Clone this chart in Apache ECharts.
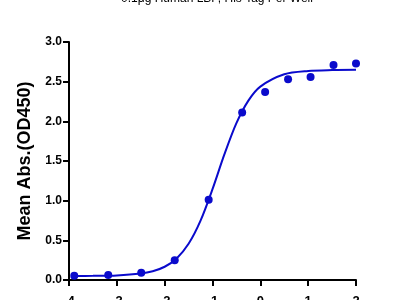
<!DOCTYPE html>
<html><head><meta charset="utf-8">
<script src="https://cdn.jsdelivr.net/npm/echarts@6/dist/echarts.min.js"></script>
<style>html,body{margin:0;padding:0;background:#fff}#c{width:400px;height:300px}</style>
</head><body><div id="c"></div>
<script>
var titleText = "0.1μg Human LBP, His Tag Per Well";
var yAxisName = "Mean Abs.(OD450)";
var pointX = [-3.89, -3.18, -2.49, -1.79, -1.08, -0.38, 0.10, 0.58, 1.05, 1.53, 2.00];
var pointY = [0.054, 0.063, 0.092, 0.25, 1.01, 2.11, 2.37, 2.53, 2.56, 2.71, 2.73];
var curveX = [-3.89, -3.5, -3, -2.5, -2.25, -2, -1.75, -1.5, -1.25, -1, -0.75, -0.5, -0.25, 0, 0.5, 1, 1.5, 2];
var curveY = [0.051, 0.052, 0.058, 0.081, 0.11, 0.167, 0.272, 0.456, 0.748, 1.145, 1.586, 1.977, 2.261, 2.438, 2.593, 2.635, 2.646, 2.649];
var xTicks = [-4, -3, -2, -1, 0, 1, 2];
var yTicks = [0, 0.5, 1, 1.5, 2, 2.5, 3];

var blue = '#0A0ACC';
var chart = echarts.init(document.getElementById('c'));
chart.setOption({
  animation: false,
  title: {text: titleText, left: 212, textAlign: 'center', top: -12,
    textStyle: {fontFamily: 'Liberation Sans', fontSize: 12, fontWeight: 'normal', color: '#000'}},
  grid: {left: 69, right: 44, top: 42, bottom: 20, containLabel: false, outerBoundsMode: 'none'},
  xAxis: {type: 'value', min: xTicks[0], max: xTicks[xTicks.length-1], interval: 1,
    axisLine: {lineStyle: {color: '#000', width: 2}},
    axisTick: {length: 6, lineStyle: {color: '#000', width: 2}},
    axisLabel: {margin: 15, color: '#000', fontFamily: 'Liberation Sans', fontWeight: 'bold', fontSize: 13},
    splitLine: {show: false}},
  yAxis: {type: 'value', min: yTicks[0], max: yTicks[yTicks.length-1], interval: 0.5,
    name: yAxisName, nameLocation: 'middle', nameGap: 31,
    nameTextStyle: {color: '#000', fontFamily: 'Liberation Sans', fontWeight: 'bold', fontSize: 18},
    axisLine: {show: true, onZero: false, lineStyle: {color: '#000', width: 2}},
    axisTick: {show: true, length: 6, lineStyle: {color: '#000', width: 2}},
    axisLabel: {margin: 7, color: '#000', fontFamily: 'Liberation Sans', fontWeight: 'bold', fontSize: 12,
      formatter: function(v){return v.toFixed(1);}},
    splitLine: {show: false}},
  series: [
    {type: 'line', data: curveX.map(function(x,i){return [x, curveY[i]];}), smooth: 0.3,
     showSymbol: false, lineStyle: {color: blue, width: 2}, z: 2},
    {type: 'scatter', data: pointX.map(function(x,i){return [x, pointY[i]];}),
     symbolSize: 8, itemStyle: {color: blue, opacity: 1}, z: 3}
  ]
});
</script></body></html>
